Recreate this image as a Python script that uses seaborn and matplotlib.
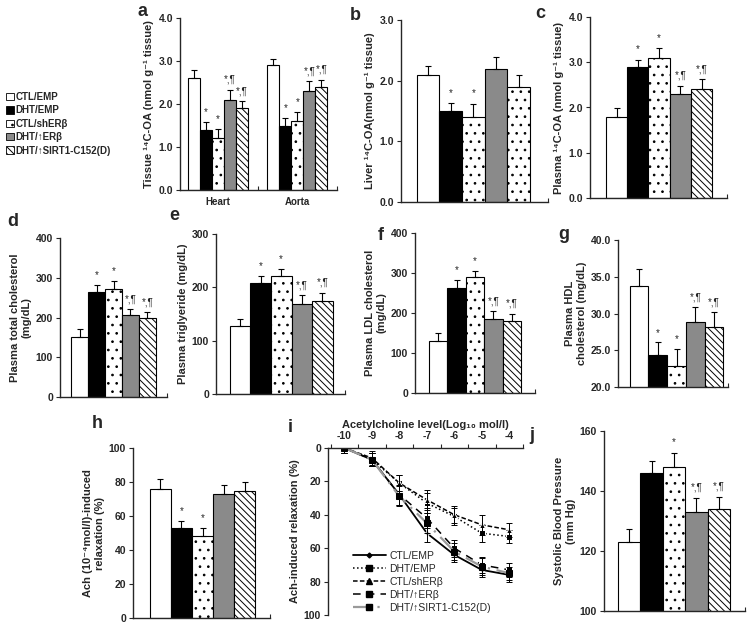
import numpy as np
import pandas as pd
import matplotlib
matplotlib.use('Agg')
import matplotlib.pyplot as plt
import seaborn as sns
from matplotlib.patches import Patch
from matplotlib.lines import Line2D

# groups shared by all panels
GROUPS = ['CTL/EMP', 'DHT/EMP', 'CTL/shERβ', 'DHT/↑ERβ', 'DHT/↑SIRT1-C152(D)']
FACES = ['white', 'black', 'white', '#8a8a8a', 'white']
HATCHES = [None, None, '..', None, '\\\\\\\\\\']

# a: tissue 14C-OA
TISSUES = ['Heart', 'Aorta']
a_heart = [2.6, 1.4, 1.2, 2.1, 1.9]
a_heart_err = [0.18, 0.17, 0.22, 0.23, 0.16]
a_aorta = [2.9, 1.5, 1.6, 2.3, 2.4]
a_aorta_err = [0.15, 0.17, 0.22, 0.23, 0.16]
a_marks = ['', '*', '*', '*,¶', '*,¶']

# b: liver 14C-OA
b_vals = [2.1, 1.5, 1.4, 2.2, 1.9]
b_err = [0.15, 0.13, 0.22, 0.19, 0.19]
b_marks = ['', '*', '*', '', '']

# c: plasma 14C-OA
c_vals = [1.8, 2.9, 3.1, 2.3, 2.4]
c_err = [0.19, 0.15, 0.21, 0.17, 0.22]
c_marks = ['', '*', '*', '*,¶', '*,¶']

# d: total cholesterol
d_vals = [152, 265, 272, 207, 198]
d_err = [19, 18, 20, 14, 15]
d_marks = ['', '*', '*', '*,¶', '*,¶']

# e: triglyceride
e_vals = [128, 208, 221, 169, 175]
e_err = [12, 13, 13, 17, 15]
e_marks = ['', '*', '*', '*,¶', '*,¶']

# f: LDL
f_vals = [131, 262, 290, 186, 181]
f_err = [18, 20, 15, 18, 17]
f_marks = ['', '*', '*', '*,¶', '*,¶']

# g: HDL
g_vals = [33.8, 24.3, 22.9, 28.8, 28.2]
g_err = [2.2, 1.8, 2.3, 2.1, 2.0]
g_marks = ['', '*', '*', '*,¶', '*,¶']

# h: Ach 10^-4 relaxation
h_vals = [76, 53, 48, 73, 75]
h_err = [5.5, 4, 5, 5, 5]
h_marks = ['', '*', '*', '', '']

# i: dose response
ACH_X = [-10, -9, -8, -7, -6, -5, -4]
i_ctl_emp = [0, 7, 28, 51, 64, 73, 76]
i_ctl_emp_err = [3, 4, 6, 5, 4, 4, 4]
i_dht_emp = [0, 7, 21, 33, 41, 51, 53]
i_dht_emp_err = [3, 4, 5, 6, 5, 5, 4]
i_ctl_sh = [0, 6, 21, 31, 40, 46, 49]
i_ctl_sh_err = [3, 4, 5, 6, 5, 6, 4]
i_dht_erb = [0, 7, 28, 42, 60, 70, 73]
i_dht_erb_err = [3, 4, 6, 6, 5, 5, 4]
i_dht_sirt = [0, 7, 29, 45, 62, 71, 75]
i_dht_sirt_err = [3, 4, 6, 6, 5, 5, 4]

# j: systolic BP
j_vals = [123, 146, 148, 133, 134]
j_err = [4.3, 3.9, 4.7, 4.7, 4.0]
j_marks = ['', '', '*', '*,¶', '*,¶']

sns.set_style('ticks')
plt.rcParams['font.family'] = ['Liberation Sans', 'DejaVu Sans']
plt.rcParams['hatch.linewidth'] = 0.7
plt.rcParams['axes.linewidth'] = 1.0

W, H = 750, 625
fig = plt.figure(figsize=(7.5, 6.25), dpi=100)


def px_axes(l, t, r, b):
    return fig.add_axes([l / W, 1 - b / H, (r - l) / W, (b - t) / H])


def style_axis(ax, ylim, yticks, fmt, ylabel):
    ax.set_ylim(*ylim)
    ax.set_yticks(yticks)
    ax.set_yticklabels([fmt.format(t) for t in yticks], fontsize=7.5, fontweight='bold')
    ax.tick_params(axis='y', length=3, width=0.8, pad=2)
    ax.set_xlabel('')
    ax.set_ylabel(ylabel, fontsize=8, fontweight='bold', labelpad=3)
    sns.despine(ax=ax)


def add_errors(ax, xs, vals, errs, marks, span):
    ax.errorbar(xs, vals, yerr=[np.zeros(len(vals)), errs], fmt='none', ecolor='black',
                elinewidth=0.8, capsize=2.5, capthick=0.8)
    for x, v, e, m in zip(xs, vals, errs, marks):
        if m:
            ax.text(x, v + e + span * 0.03, m, ha='center', va='bottom', fontsize=7)


def bar_panel(ax, vals, errs, marks, ylim, yticks, fmt, pad, ylabel, styles=(0, 1, 2, 3, 4)):
    df = pd.DataFrame({'group': GROUPS, 'value': vals})
    sns.barplot(data=df, x='group', y='value', hue='group', order=GROUPS, hue_order=GROUPS,
                palette=[FACES[s] for s in styles], saturation=1, width=1.0,
                edgecolor='black', linewidth=0.8, errorbar=None, legend=False, ax=ax)
    bars = sorted(ax.patches, key=lambda p: p.get_x())
    xs = []
    for bar, s in zip(bars, styles):
        bar.set_hatch(HATCHES[s])
        xs.append(bar.get_x() + bar.get_width() / 2)
    add_errors(ax, xs, vals, errs, marks, ylim[1] - ylim[0])
    hi = 4.5 + pad[1]
    ax.set_xlim(-0.5 - pad[0], hi)
    ax.set_xticks([])
    ax.set_xticks([hi], minor=True)
    ax.tick_params(axis='x', which='minor', direction='in', length=3, width=0.8)
    style_axis(ax, ylim, yticks, fmt, ylabel)


# panel a (grouped)
ax = px_axes(180, 18, 337, 190)
df_a = pd.DataFrame({'tissue': np.repeat(TISSUES, 5), 'group': GROUPS * 2,
                     'value': a_heart + a_aorta})
sns.barplot(data=df_a, x='tissue', y='value', hue='group', order=TISSUES, hue_order=GROUPS,
            palette=FACES, saturation=1, width=0.755, edgecolor='black', linewidth=0.8,
            errorbar=None, legend=False, ax=ax)
bars = sorted(ax.patches, key=lambda p: p.get_x())
xs = []
for k, bar in enumerate(bars):
    bar.set_hatch(HATCHES[k % 5])
    xs.append(bar.get_x() + bar.get_width() / 2)
add_errors(ax, xs, a_heart + a_aorta, a_heart_err + a_aorta_err, a_marks * 2, 4)
ax.set_xlim(-0.48, 1.5)
ax.set_xticks([0, 1])
ax.set_xticklabels(TISSUES, fontsize=7, fontweight='bold')
ax.tick_params(axis='x', which='major', length=0, pad=5)
ax.set_xticks([0.5, 1.5], minor=True)
ax.tick_params(axis='x', which='minor', direction='in', length=3, width=0.8)
style_axis(ax, (0, 4), [0, 1, 2, 3, 4], '{:.1f}', 'Tissue ¹⁴C-OA (nmol g⁻¹ tissue)')

handles = [Patch(facecolor=FACES[k], edgecolor='black', hatch=HATCHES[k], linewidth=0.6,
                 label=GROUPS[k]) for k in range(5)]
leg = fig.legend(handles=handles, loc='upper left', bbox_to_anchor=(2 / W, 1 - 88 / H),
                 frameon=False, fontsize=7, handlelength=0.8, handleheight=0.8,
                 handletextpad=0.2, labelspacing=0.35, borderaxespad=0)
for t in leg.get_texts():
    t.set_fontweight('bold')

# panel b
ax = px_axes(401, 20, 548, 202)
bar_panel(ax, b_vals, b_err, b_marks, (0, 3), [0, 1, 2, 3], '{:.1f}', (0.7, 0.8),
          'Liver ¹⁴C-OA(nmol g⁻¹ tissue)', styles=(0, 1, 2, 3, 2))

# panel c
ax = px_axes(590, 17, 727, 198)
bar_panel(ax, c_vals, c_err, c_marks, (0, 4), [0, 1, 2, 3, 4], '{:.1f}', (0.75, 0.7),
          'Plasma ¹⁴C-OA (nmol g⁻¹ tissue)')

# panel d
ax = px_axes(60, 238, 167, 397)
bar_panel(ax, d_vals, d_err, d_marks, (0, 400), [0, 100, 200, 300, 400], '{:.0f}', (0.65, 0.65),
          'Plasma total cholesterol\n(mg/dL)')

# panel e
ax = px_axes(216, 234, 345, 394)
bar_panel(ax, e_vals, e_err, e_marks, (0, 300), [0, 100, 200, 300], '{:.0f}', (0.67, 0.6),
          'Plasma triglyeride (mg/dL)')

# panel f
ax = px_axes(415, 233, 535, 393)
bar_panel(ax, f_vals, f_err, f_marks, (0, 400), [0, 100, 200, 300, 400], '{:.0f}', (0.75, 0.75),
          'Plasma LDL cholesterol\n(mg/dL)')

# panel g
ax = px_axes(618, 240, 728, 387)
bar_panel(ax, g_vals, g_err, g_marks, (20, 40), [20, 25, 30, 35, 40], '{:.1f}', (0.63, 0.25),
          'Plasma HDL\ncholesterol (mg/dL)')

# panel h
ax = px_axes(133, 448, 270, 618)
bar_panel(ax, h_vals, h_err, h_marks, (0, 100), [0, 20, 40, 60, 80, 100], '{:.0f}', (0.8, 0.7),
          'Ach (10⁻⁴mol/l)-induced\nrelaxation (%)')

# panel j
ax = px_axes(604, 431, 745, 611)
bar_panel(ax, j_vals, j_err, j_marks, (100, 160), [100, 120, 140, 160], '{:.0f}', (0.62, 0.67),
          'Systolic Blood Pressure\n(mm Hg)')

# panel i (dose response, inverted)
ax = px_axes(328, 448, 523, 615)
series = [
    ('CTL/EMP', i_ctl_emp, i_ctl_emp_err, dict(color='black', linestyle='-', lw=1.3, marker='D', ms=2.5)),
    ('DHT/EMP', i_dht_emp, i_dht_emp_err, dict(color='black', linestyle=':', lw=1.1, marker='s', ms=4)),
    ('CTL/shERβ', i_ctl_sh, i_ctl_sh_err, dict(color='black', linestyle=(0, (3, 1.5)), lw=1.1, marker='^', ms=4)),
    ('DHT/↑ERβ', i_dht_erb, i_dht_erb_err, dict(color='black', linestyle=(0, (5, 4)), lw=1.1, marker='s', ms=4)),
    ('DHT/↑SIRT1-C152(D)', i_dht_sirt, i_dht_sirt_err,
     dict(color='#9a9a9a', linestyle=(0, (8, 3, 1, 3)), lw=1.6, marker='s', ms=4,
          markerfacecolor='black', markeredgecolor='black')),
]
line_handles = []
for name, vals, errs, kw in series:
    sns.lineplot(x=ACH_X, y=vals, ax=ax, **kw)
    ax.errorbar(ACH_X, vals, yerr=errs, fmt='none', ecolor='black', elinewidth=0.7,
                capsize=2, capthick=0.7)
    line_handles.append(Line2D([], [], label=name, **kw))
ax.set_xlim(-10.6, -3.5)
ax.set_ylim(100, 0)
ax.xaxis.tick_top()
ax.xaxis.set_label_position('top')
ax.set_xticks(ACH_X)
ax.set_xticklabels([str(v) for v in ACH_X], fontsize=7.5, fontweight='bold')
ax.set_xticks(np.arange(-10.5, -3.4, 1.0), minor=True)
ax.tick_params(axis='x', which='major', length=0, pad=5)
ax.tick_params(axis='x', which='minor', direction='out', length=3, width=0.8)
ax.set_xlabel('Acetylcholine level(Log₁₀ mol/l)', fontsize=8, fontweight='bold', labelpad=2)
ax.set_yticks([0, 20, 40, 60, 80, 100])
ax.set_yticklabels(['0', '20', '40', '60', '80', '100'], fontsize=7.5, fontweight='bold')
ax.tick_params(axis='y', length=3, width=0.8, pad=2)
ax.set_ylabel('Ach-induced relaxation (%)', fontsize=8, fontweight='bold', labelpad=3)
ax.spines['bottom'].set_visible(False)
ax.spines['right'].set_visible(False)
ax.legend(handles=line_handles, loc='lower left', bbox_to_anchor=(0.1, -0.02), frameon=False,
          fontsize=7.5, handlelength=3.2, handletextpad=0.3, labelspacing=0.3, borderaxespad=0.1)

# panel letters
letters = [('a', 142, 11), ('b', 355, 15), ('c', 540, 13), ('d', 13, 222), ('e', 174, 215),
           ('f', 381, 236), ('g', 564, 234), ('h', 97, 423), ('i', 290, 428), ('j', 532, 435)]
for s, x, y in letters:
    fig.text(x / W, 1 - y / H, s, fontsize=13, fontweight='bold', ha='center', va='center')

fig.savefig('out.png', dpi=100, facecolor='white')
